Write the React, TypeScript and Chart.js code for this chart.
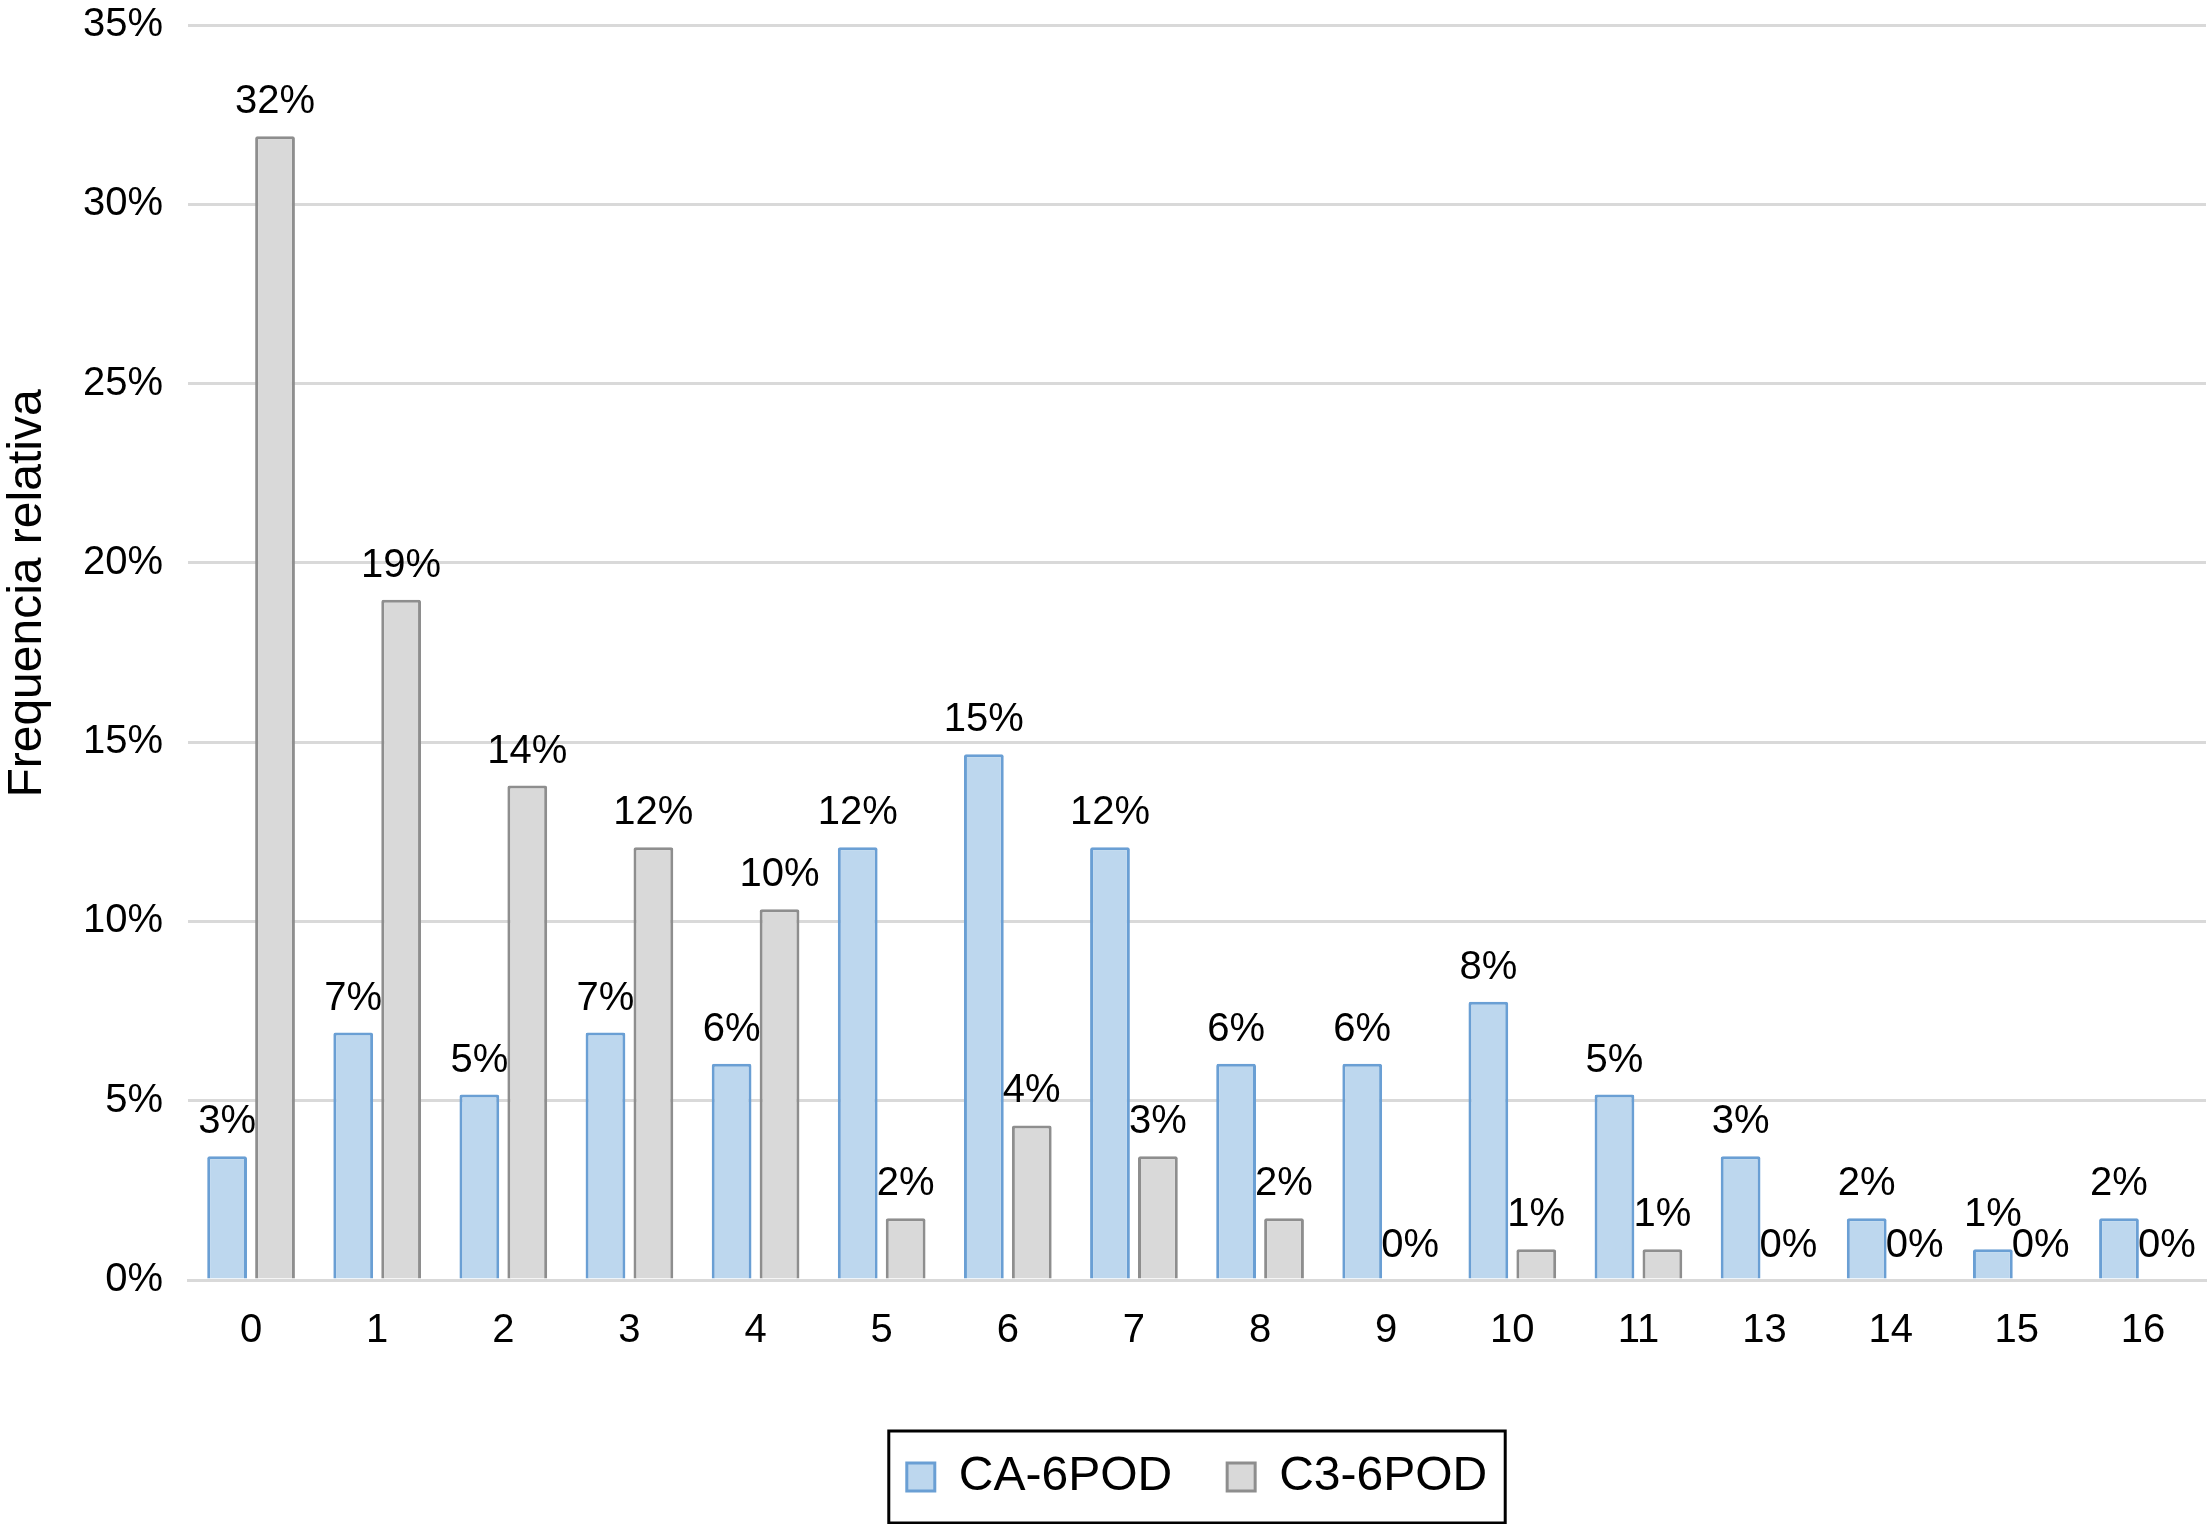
import React, { useEffect, useRef } from "react";
import { Chart, registerables } from "chart.js";

Chart.register(...registerables);

const categories = ["0", "1", "2", "3", "4", "5", "6", "7", "8", "9", "10", "11", "13", "14", "15", "16"];
const caValues = [3.45, 6.9, 5.17, 6.9, 6.03, 12.07, 14.66, 12.07, 6.03, 6.03, 7.76, 5.17, 3.45, 1.72, 0.86, 1.72];
const c3Values = [31.9, 18.97, 13.79, 12.07, 10.34, 1.72, 4.31, 3.45, 1.72, 0, 0.86, 0.86, 0, 0, 0, 0];
const seriesNames = ["CA-6POD", "C3-6POD"];
const yTicks = [0, 5, 10, 15, 20, 25, 30, 35];
const yTitle = "Frequencia relativa";

const FONT = "'Liberation Sans', Arial, Helvetica, sans-serif";

const dataLabelPlugin = {
  id: "dataLabels",
  afterDatasetsDraw(chart: any) {
    const ctx = chart.ctx;
    ctx.save();
    ctx.font = `40px ${FONT}`;
    ctx.fillStyle = "#000";
    ctx.textAlign = "center";
    ctx.textBaseline = "alphabetic";
    chart.data.datasets.forEach((ds: any, di: number) => {
      const meta = chart.getDatasetMeta(di);
      meta.data.forEach((bar: any, i: number) => {
        const v = ds.data[i];
        ctx.fillText(`${Math.round(v)}%`, bar.x, bar.y - 23);
      });
    });
    ctx.restore();
  },
};

const yTitlePlugin = {
  id: "yTitle",
  afterDraw(chart: any) {
    const ctx = chart.ctx;
    const area = chart.chartArea;
    ctx.save();
    ctx.font = `48px ${FONT}`;
    ctx.fillStyle = "#000";
    ctx.textAlign = "center";
    ctx.textBaseline = "middle";
    ctx.translate(28, area.top + (area.bottom - area.top) * 0.453);
    ctx.rotate(-Math.PI / 2);
    ctx.fillText(yTitle, 0, 0);
    ctx.restore();
  },
};

const legendBorderPlugin = {
  id: "legendBorder",
  afterDraw(chart: any) {
    const lg = chart.legend;
    if (!lg || !lg.legendHitBoxes || !lg.legendHitBoxes.length) return;
    const hb = lg.legendHitBoxes;
    let l = Infinity, r = -Infinity, t = Infinity, b = -Infinity;
    hb.forEach((h: any) => {
      l = Math.min(l, h.left);
      r = Math.max(r, h.left + h.width);
      t = Math.min(t, h.top);
      b = Math.max(b, h.top + h.height);
    });
    const ctx = chart.ctx;
    ctx.save();
    ctx.strokeStyle = "#000";
    ctx.lineWidth = 3;
    ctx.strokeRect(l - 18, t - 22, r - l + 36, b - t + 44);
    ctx.restore();
  },
};

export default function App() {
  const ref = useRef<HTMLCanvasElement | null>(null);
  useEffect(() => {
    if (!ref.current) return;
    const chart = new Chart(ref.current, {
      type: "bar",
      data: {
        labels: categories,
        datasets: [
          {
            label: seriesNames[0],
            data: caValues,
            backgroundColor: "#BDD7EE",
            borderColor: "#6A9FD4",
            borderWidth: 3,
            borderRadius: 2,
            barPercentage: 0.83,
            categoryPercentage: 0.76,
          },
          {
            label: seriesNames[1],
            data: c3Values,
            backgroundColor: "#D9D9D9",
            borderColor: "#8E8E8E",
            borderWidth: 3,
            borderRadius: 2,
            barPercentage: 0.83,
            categoryPercentage: 0.76,
          },
        ],
      },
      options: {
        animation: false,
        responsive: true,
        maintainAspectRatio: false,
        layout: { padding: { top: 25, right: 4, left: 0, bottom: 13 } },
        plugins: {
          tooltip: { enabled: false },
          legend: {
            position: "bottom",
            fullSize: false,
            labels: {
              color: "#000",
              font: { family: FONT, size: 48 },
              boxWidth: 28,
              boxHeight: 28,
              padding: 55,
            },
          },
        },
        scales: {
          x: {
            grid: { display: false },
            border: { color: "#D9D9D9", width: 3 },
            ticks: { color: "#000", font: { family: FONT, size: 40 }, padding: 19 },
            afterFit: (s: any) => {
              s.height = 118;
            },
          },
          y: {
            min: 0,
            max: 35,
            afterBuildTicks: (s: any) => {
              s.ticks = yTicks.map((v) => ({ value: v }));
            },
            grid: { color: "#D9D9D9", lineWidth: 3, drawTicks: false },
            border: { display: false },
            ticks: {
              color: "#000",
              font: { family: FONT, size: 40 },
              padding: 25,
              callback: (v: any) => `${v}%`,
            },
            title: { display: false },
            afterFit: (s: any) => {
              s.width = 188;
              s.paddingTop = 0;
              s.paddingBottom = 0;
            },
          },
        },
      },
      plugins: [dataLabelPlugin, yTitlePlugin, legendBorderPlugin],
    });
    return () => chart.destroy();
  }, []);
  return (
    <div style={{ position: "fixed", left: 0, top: 0, width: 2210, height: 1524, background: "#fff" }}>
      <canvas ref={ref} />
    </div>
  );
}
